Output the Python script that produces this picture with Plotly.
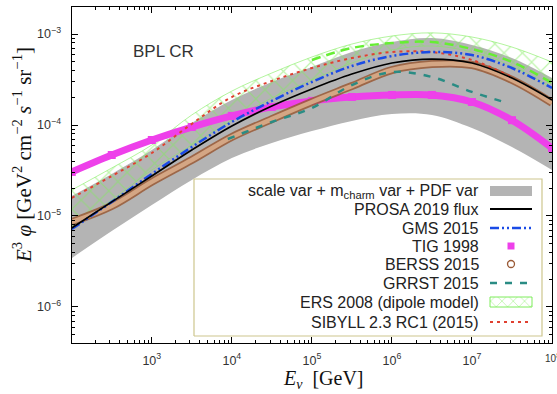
import plotly.graph_objects as go

# ---------------- data ----------------
E = [1.0e2, 3.16e2, 1.0e3, 3.16e3, 1.0e4, 3.16e4, 1.0e5, 3.16e5,
     1.0e6, 3.16e6, 1.0e7, 3.16e7, 1.0e8]

band_upper = [1.66e-5, 2.90e-5, 5.31e-5, 1.05e-4, 1.88e-4, 2.97e-4, 4.34e-4,
              6.34e-4, 8.17e-4, 9.03e-4, 7.57e-4, 5.44e-4, 3.28e-4]
band_lower = [3.45e-6, 6.84e-6, 1.32e-5, 2.49e-5, 4.34e-5, 6.34e-5, 8.59e-5,
              1.11e-4, 1.32e-4, 1.29e-4, 9.27e-5, 5.73e-5, 3.20e-5]
prosa = [7.38e-6, 1.43e-5, 2.75e-5, 5.31e-5, 9.75e-5, 1.62e-4, 2.49e-4,
         3.63e-4, 4.80e-4, 5.31e-4, 4.80e-4, 3.28e-4, 1.88e-4]
gms = [7.19e-6, 1.43e-5, 2.90e-5, 5.73e-5, 1.08e-4, 1.84e-4, 2.97e-4,
       4.45e-4, 5.73e-4, 6.34e-4, 5.87e-4, 4.23e-4, 2.55e-4]
tig = [3.05e-5, 4.68e-5, 6.84e-5, 9.50e-5, 1.26e-4, 1.58e-4, 1.84e-4,
       2.03e-4, 2.14e-4, 2.14e-4, 1.79e-4, 1.13e-4, 5.58e-5]
berss = [8.59e-6, 1.29e-5, 2.37e-5, 4.12e-5, 7.38e-5, 1.16e-4, 1.79e-4,
         2.68e-4, 4.02e-4, 4.68e-4, 4.56e-4, 3.13e-4, 1.75e-4]
ers_upper = [1.93e-5, 3.37e-5, 6.03e-5, 1.29e-4, 2.36e-4, 3.73e-4, 5.59e-4,
             7.76e-4, 9.51e-4, 1.03e-3, 9.27e-4, 7.19e-4, 4.92e-4]
ers_lower = [7.76e-6, 1.50e-5, 3.20e-5, 6.03e-5, 1.13e-4, 1.98e-4, 3.13e-4,
             4.80e-4, 6.67e-4, 7.38e-4, 6.34e-4, 4.45e-4, 2.55e-4]

E_ers_mid = [1.0e5, 3.16e5, 1.0e6, 3.16e6, 1.0e7, 3.16e7, 1.0e8]
ers_mid = [5.18e-4, 7.02e-4, 7.96e-4, 8.17e-4, 6.84e-4, 4.92e-4, 2.90e-4]

E_sibyll = [1.0e2, 3.16e2, 1.0e3, 3.16e3, 1.0e4, 3.16e4, 1.0e5, 3.16e5,
            1.0e6, 3.16e6, 1.0e7, 3.16e7]
sibyll = [1.58e-5, 2.75e-5, 4.92e-5, 1.03e-4, 2.03e-4, 3.05e-4, 4.23e-4,
          5.44e-4, 6.34e-4, 6.34e-4, 5.18e-4, 3.37e-4]

E_grrst = [8.9e3, 3.16e4, 1.0e5, 3.16e5, 1.0e6, 3.16e6, 1.0e7, 2.75e7]
grrst = [7.02e-5, 1.08e-4, 1.54e-4, 2.75e-4, 3.82e-4, 3.37e-4, 2.31e-4, 1.75e-4]

legend_labels = ["scale var + m<sub>charm</sub> var + PDF var", "PROSA 2019 flux",
                 "GMS 2015", "TIG 1998", "BERSS 2015", "GRRST 2015",
                 "ERS 2008 (dipole model)", "SIBYLL 2.3 RC1 (2015)"]
edge_tick_label = "10<sup>8</sup>"

# ---------------- styles ----------------
GRAY = "rgb(180,180,180)"
BLUE = "#1a4be6"
MAGENTA = "#ee40ea"
BROWN = "#9a5a36"
TAN = "#d4a684"
TEAL = "#2a8c84"
GREEN = "#7fec5c"
BRIGHTGREEN = "#66ee33"
RED = "#e04030"
BLUE_DASH = "9px,3px,2px,3px,2px,3px"

W, H = 557, 394
ML, MR, MT, MB = 72, 5, 7, 51
PW, PH = W - ML - MR, H - MT - MB


def fx(px):
    return (px - ML) / PW


def fy(py):
    return (H - MB - py) / PH


fig = go.Figure()

# gray uncertainty band
fig.add_trace(go.Scatter(x=E, y=band_lower, mode="lines", line=dict(width=0, shape="spline"),
                         showlegend=False, hoverinfo="skip"))
fig.add_trace(go.Scatter(x=E, y=band_upper, mode="lines", line=dict(width=0, shape="spline"),
                         fill="tonexty", fillcolor=GRAY, showlegend=False))

# ERS hatched band
fig.add_trace(go.Scatter(x=E, y=ers_lower, mode="lines",
                         line=dict(width=0.5, color=GREEN, shape="spline"),
                         showlegend=False))
fig.add_trace(go.Scatter(x=E, y=ers_upper, mode="lines",
                         line=dict(width=0.6, color=GREEN, shape="spline"),
                         fill="tonexty", fillcolor="rgba(0,0,0,0)",
                         fillpattern=dict(shape="x", fgcolor=GREEN, bgcolor="rgba(0,0,0,0)",
                                          size=13, solidity=0.18),
                         showlegend=False))
fig.add_trace(go.Scatter(x=E_ers_mid, y=ers_mid, mode="lines",
                         line=dict(width=2.5, color=BRIGHTGREEN, dash="9px,6px", shape="spline"),
                         showlegend=False))

# TIG 1998
fig.add_trace(go.Scatter(x=E, y=tig, mode="lines+markers",
                         line=dict(width=7, color=MAGENTA, shape="spline"),
                         marker=dict(symbol="square", size=8, color=MAGENTA),
                         showlegend=False))

# BERSS 2015 (dense open circles -> brown edged tan band)
fig.add_trace(go.Scatter(x=E, y=berss, mode="lines",
                         line=dict(width=8, color=BROWN, shape="spline"),
                         opacity=0.85, showlegend=False))
fig.add_trace(go.Scatter(x=E, y=berss, mode="lines",
                         line=dict(width=4.5, color=TAN, shape="spline"),
                         showlegend=False))

# GRRST 2015
fig.add_trace(go.Scatter(x=E_grrst, y=grrst, mode="lines",
                         line=dict(width=2.5, color=TEAL, dash="7px,8px", shape="spline"),
                         showlegend=False))

# SIBYLL
fig.add_trace(go.Scatter(x=E_sibyll, y=sibyll, mode="lines",
                         line=dict(width=2, color=RED, dash="3px,4px", shape="spline"),
                         showlegend=False))

# GMS 2015
fig.add_trace(go.Scatter(x=E, y=gms, mode="lines",
                         line=dict(width=2.5, color=BLUE, dash=BLUE_DASH, shape="spline"),
                         showlegend=False))

# PROSA
fig.add_trace(go.Scatter(x=E, y=prosa, mode="lines",
                         line=dict(width=1.7, color="black", shape="spline"),
                         showlegend=False))

# ---------------- custom legend on an overlay axis ----------------
bx0, bx1, by0, by1 = fx(194), fx(542), fy(336), fy(179)
fig.add_trace(go.Scatter(x=[bx0, bx1, bx1, bx0, bx0], y=[by0, by0, by1, by1, by0],
                         xaxis="x2", yaxis="y2", mode="lines", fill="toself",
                         fillcolor="white", line=dict(color="#cdc68e", width=1.2),
                         showlegend=False, hoverinfo="skip"))

rows = [191, 209, 228, 246, 264, 283, 302, 322]
sx0, sx1, sxc = fx(490), fx(532), fx(511)

# gray rect
fig.add_trace(go.Scatter(x=[sx0, sx1, sx1, sx0, sx0],
                         y=[fy(rows[0] + 5), fy(rows[0] + 5), fy(rows[0] - 5), fy(rows[0] - 5), fy(rows[0] + 5)],
                         xaxis="x2", yaxis="y2", mode="lines", fill="toself", fillcolor=GRAY,
                         line=dict(width=0), showlegend=False))
# line symbols
for r, col, dash, wid in [(rows[1], "black", "solid", 1.8), (rows[2], BLUE, BLUE_DASH, 2.5),
                          (rows[5], TEAL, "7px,8px", 2.5), (rows[7], RED, "3px,4px", 2)]:
    fig.add_trace(go.Scatter(x=[sx0, sx1], y=[fy(r), fy(r)], xaxis="x2", yaxis="y2", mode="lines",
                             line=dict(color=col, dash=dash, width=wid), showlegend=False))
# marker symbols
fig.add_trace(go.Scatter(x=[sxc], y=[fy(rows[3])], xaxis="x2", yaxis="y2", mode="markers",
                         marker=dict(symbol="square", size=7, color=MAGENTA), showlegend=False))
fig.add_trace(go.Scatter(x=[sxc], y=[fy(rows[4])], xaxis="x2", yaxis="y2", mode="markers",
                         marker=dict(symbol="circle-open", size=7, color=BROWN, line=dict(width=1.3)),
                         showlegend=False))
# hatched rect
fig.add_trace(go.Scatter(x=[sx0, sx1, sx1, sx0, sx0],
                         y=[fy(rows[6] + 5), fy(rows[6] + 5), fy(rows[6] - 5), fy(rows[6] - 5), fy(rows[6] + 5)],
                         xaxis="x2", yaxis="y2", mode="lines", fill="toself", fillcolor="rgba(0,0,0,0)",
                         fillpattern=dict(shape="x", fgcolor=GREEN, bgcolor="white", size=8, solidity=0.2),
                         line=dict(width=1, color=GREEN), showlegend=False))

annotations = []
for r, lab in zip(rows, legend_labels):
    annotations.append(dict(x=fx(481), y=fy(r), xref="paper", yref="paper", text=lab,
                            showarrow=False, xanchor="right", yanchor="middle",
                            font=dict(family="Liberation Sans, Arial, sans-serif", size=16, color="#222")))

annotations.append(dict(x=fx(163), y=fy(52), xref="paper", yref="paper", text="BPL CR",
                        showarrow=False, xanchor="center", yanchor="middle",
                        font=dict(family="Liberation Sans, Arial, sans-serif", size=17, color="#333")))
annotations.append(dict(x=fx(22), y=fy(155), xref="paper", yref="paper", textangle=-90,
                        text="<i>E</i><sup>3</sup> <i>φ</i> [GeV<sup>2</sup> cm<sup>−2</sup> <i>s</i><sup>−1</sup> sr<sup>−1</sup>]",
                        showarrow=False, xanchor="center", yanchor="middle",
                        font=dict(family="Liberation Serif, Times New Roman, serif", size=21, color="#111")))
annotations.append(dict(x=fx(323), y=fy(379), xref="paper", yref="paper",
                        text="<i>E</i><sub><i>ν</i></sub>  [GeV]",
                        showarrow=False, xanchor="center", yanchor="middle",
                        font=dict(family="Liberation Serif, Times New Roman, serif", size=20, color="#111")))
# last x tick label, cut off at the right edge as in the reference
annotations.append(dict(x=1.0, y=fy(358), xref="paper", yref="paper", text=edge_tick_label,
                        showarrow=False, xanchor="center", yanchor="middle",
                        font=dict(family="Liberation Sans, Arial, sans-serif", size=10, color="#333")))

axis_common = dict(type="log", showgrid=False, zeroline=False, showline=True, linecolor="black",
                   linewidth=1, mirror="allticks", ticks="inside", ticklen=6, tickcolor="black",
                   dtick=1, exponentformat="power", showexponent="all", automargin=False,
                   tickfont=dict(family="Liberation Sans, Arial, sans-serif", size=10, color="#333"),
                   minor=dict(ticks="inside", ticklen=3, tickcolor="black", showgrid=False))

fig.update_layout(
    width=W, height=H,
    margin=dict(l=ML, r=MR, t=MT, b=MB, pad=0),
    paper_bgcolor="white", plot_bgcolor="white",
    showlegend=False,
    xaxis=dict(range=[2.003, 8.0], ticklabelstandoff=6, **axis_common),
    yaxis=dict(range=[-6.396, -2.703], ticklabelstandoff=8, **axis_common),
    xaxis2=dict(overlaying="x", range=[0, 1], visible=False, fixedrange=True),
    yaxis2=dict(overlaying="y", range=[0, 1], visible=False, fixedrange=True),
    annotations=annotations,
)

fig.write_html("out.html")
